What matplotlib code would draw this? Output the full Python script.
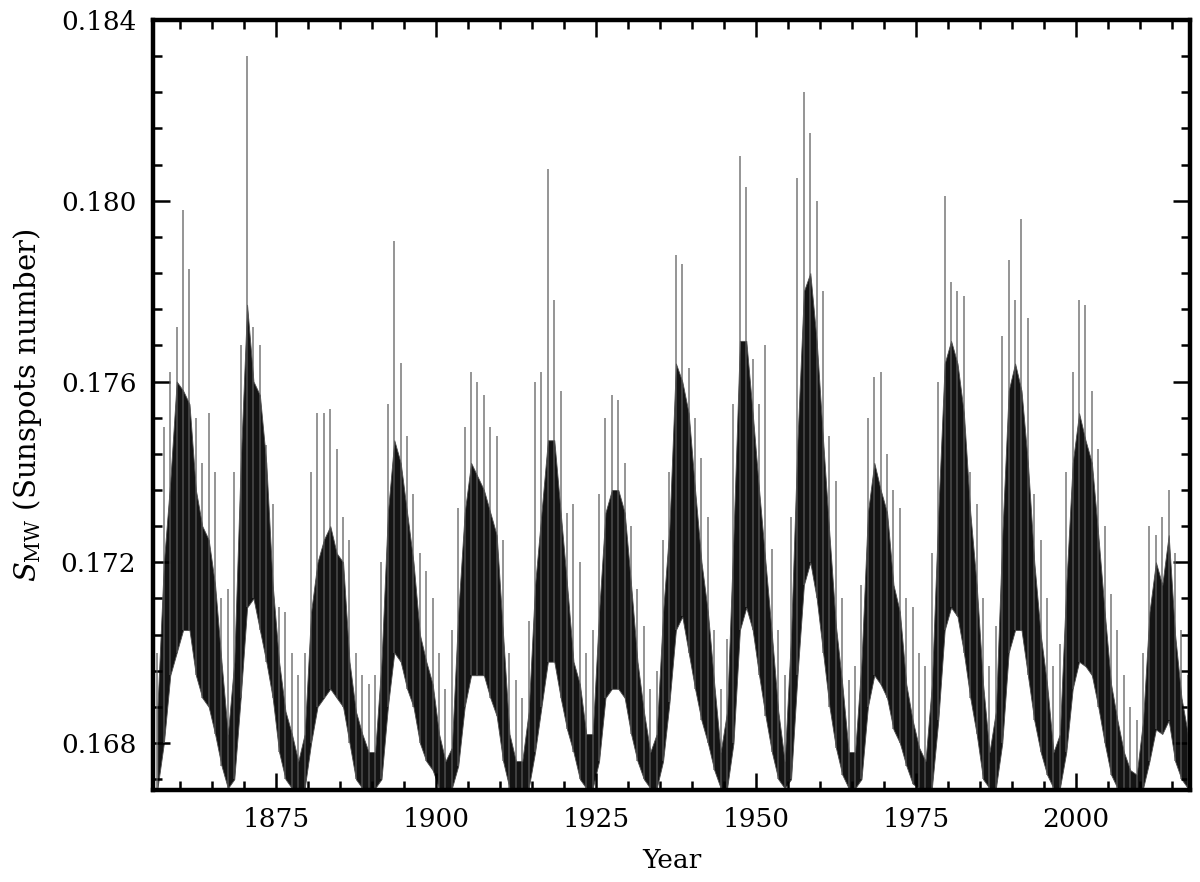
import matplotlib
matplotlib.use("Agg")
import matplotlib.pyplot as plt
import numpy as np
from matplotlib.ticker import MultipleLocator, FormatStrFormatter

# yearly bins (value plotted at mid-year)
years = np.arange(1856, 2018)

# upper edge of the dense black band
core_hi = [
    0.1688, 0.1720, 0.1738, 0.1760, 0.1758, 0.1755, 0.1736, 0.1728, 0.1725, 0.1715,  # 1856-1865
    0.1698, 0.1682, 0.1698, 0.1742, 0.1777, 0.1760, 0.1757, 0.1742, 0.1715, 0.1698,  # 1866-1875
    0.1687, 0.1682, 0.1676, 0.1682, 0.1709, 0.1720, 0.1725, 0.1728, 0.1722, 0.1720,  # 1876-1885
    0.1698, 0.1687, 0.1682, 0.1678, 0.1678, 0.1698, 0.1731, 0.1747, 0.1742, 0.1731,  # 1886-1895
    0.1720, 0.1704, 0.1698, 0.1693, 0.1682, 0.1676, 0.1679, 0.1709, 0.1731, 0.1742,  # 1896-1905
    0.1739, 0.1736, 0.1731, 0.1726, 0.1704, 0.1682, 0.1676, 0.1676, 0.1687, 0.1715,  # 1906-1915
    0.1731, 0.1747, 0.1747, 0.1731, 0.1715, 0.1698, 0.1693, 0.1682, 0.1682, 0.1709,  # 1916-1925
    0.1731, 0.1736, 0.1736, 0.1731, 0.1715, 0.1698, 0.1687, 0.1678, 0.1682, 0.1709,  # 1926-1935
    0.1728, 0.1764, 0.1760, 0.1753, 0.1736, 0.1720, 0.1709, 0.1693, 0.1678, 0.1687,  # 1936-1945
    0.1726, 0.1769, 0.1769, 0.1753, 0.1736, 0.1720, 0.1704, 0.1687, 0.1676, 0.1704,  # 1946-1955
    0.1747, 0.1780, 0.1784, 0.1769, 0.1747, 0.1726, 0.1706, 0.1693, 0.1678, 0.1678,  # 1956-1965
    0.1698, 0.1731, 0.1742, 0.1736, 0.1731, 0.1715, 0.1709, 0.1693, 0.1685, 0.1679,  # 1966-1975
    0.1676, 0.1693, 0.1731, 0.1764, 0.1769, 0.1764, 0.1753, 0.1731, 0.1715, 0.1693,  # 1976-1985
    0.1678, 0.1687, 0.1726, 0.1758, 0.1764, 0.1758, 0.1742, 0.1720, 0.1704, 0.1693,  # 1986-1995
    0.1678, 0.1682, 0.1715, 0.1742, 0.1753, 0.1747, 0.1742, 0.1726, 0.1709, 0.1693,  # 1996-2005
    0.1685, 0.1678, 0.1674, 0.1673, 0.1685, 0.1709, 0.1720, 0.1715, 0.1726, 0.1704,  # 2006-2015
    0.1690, 0.1682,                                                                  # 2016-2017
]

# lower edge of the dense black band
core_lo = [
    0.1670, 0.1680, 0.1695, 0.1700, 0.1705, 0.1705, 0.1695, 0.1690, 0.1688, 0.1682,
    0.1675, 0.1670, 0.1672, 0.1690, 0.1710, 0.1712, 0.1705, 0.1698, 0.1690, 0.1678,
    0.1672, 0.1670, 0.1670, 0.1670, 0.1680, 0.1688, 0.1690, 0.1692, 0.1690, 0.1688,
    0.1680, 0.1672, 0.1670, 0.1670, 0.1670, 0.1672, 0.1688, 0.1700, 0.1698, 0.1692,
    0.1688, 0.1680, 0.1676, 0.1674, 0.1670, 0.1670, 0.1670, 0.1675, 0.1688, 0.1695,
    0.1695, 0.1695, 0.1690, 0.1686, 0.1676, 0.1670, 0.1670, 0.1670, 0.1670, 0.1678,
    0.1688, 0.1698, 0.1698, 0.1690, 0.1683, 0.1678, 0.1672, 0.1670, 0.1670, 0.1676,
    0.1690, 0.1692, 0.1692, 0.1690, 0.1682, 0.1676, 0.1672, 0.1670, 0.1670, 0.1676,
    0.1689, 0.1705, 0.1708, 0.1700, 0.1692, 0.1685, 0.1680, 0.1674, 0.1670, 0.1670,
    0.1680, 0.1705, 0.1710, 0.1705, 0.1695, 0.1686, 0.1678, 0.1672, 0.1670, 0.1672,
    0.1695, 0.1715, 0.1720, 0.1712, 0.1700, 0.1688, 0.1679, 0.1673, 0.1670, 0.1670,
    0.1672, 0.1688, 0.1695, 0.1693, 0.1690, 0.1683, 0.1680, 0.1675, 0.1671, 0.1670,
    0.1670, 0.1670, 0.1685, 0.1705, 0.1710, 0.1708, 0.1700, 0.1690, 0.1682, 0.1672,
    0.1670, 0.1670, 0.1680, 0.1700, 0.1705, 0.1705, 0.1695, 0.1685, 0.1678, 0.1673,
    0.1670, 0.1670, 0.1678, 0.1692, 0.1698, 0.1697, 0.1695, 0.1688, 0.1680, 0.1673,
    0.1670, 0.1670, 0.1670, 0.1670, 0.1670, 0.1676, 0.1683, 0.1682, 0.1685, 0.1676,
    0.1672, 0.1670,
]

# tallest single spike in each year
spike_top = [
    0.1700, 0.1750, 0.1762, 0.1772, 0.1798, 0.1785, 0.1752, 0.1742, 0.1753, 0.1740,
    0.1712, 0.1714, 0.1740, 0.1768, 0.1832, 0.1772, 0.1768, 0.1746, 0.1733, 0.1710,
    0.1709, 0.1700, 0.1695, 0.1700, 0.1740, 0.1753, 0.1753, 0.1754, 0.1745, 0.1730,
    0.1725, 0.1700, 0.1695, 0.1693, 0.1695, 0.1720, 0.1755, 0.1791, 0.1764, 0.1748,
    0.1735, 0.1722, 0.1718, 0.1712, 0.1700, 0.1692, 0.1705, 0.1732, 0.1750, 0.1762,
    0.1760, 0.1757, 0.1750, 0.1748, 0.1725, 0.1700, 0.1694, 0.1690, 0.1707, 0.1760,
    0.1762, 0.1807, 0.1778, 0.1758, 0.1731, 0.1733, 0.1720, 0.1700, 0.1705, 0.1735,
    0.1752, 0.1757, 0.1756, 0.1742, 0.1728, 0.1714, 0.1706, 0.1692, 0.1696, 0.1725,
    0.1740, 0.1788, 0.1786, 0.1763, 0.1752, 0.1743, 0.1730, 0.1705, 0.1692, 0.1703,
    0.1755, 0.1810, 0.1803, 0.1765, 0.1755, 0.1768, 0.1723, 0.1705, 0.1695, 0.1730,
    0.1805, 0.1824, 0.1815, 0.1800, 0.1780, 0.1748, 0.1738, 0.1712, 0.1694, 0.1697,
    0.1715, 0.1752, 0.1761, 0.1762, 0.1744, 0.1736, 0.1732, 0.1712, 0.1710, 0.1700,
    0.1697, 0.1722, 0.1760, 0.1801, 0.1782, 0.1780, 0.1779, 0.1740, 0.1733, 0.1712,
    0.1697, 0.1706, 0.1770, 0.1787, 0.1778, 0.1796, 0.1774, 0.1735, 0.1725, 0.1712,
    0.1697, 0.1702, 0.1740, 0.1762, 0.1778, 0.1777, 0.1758, 0.1745, 0.1728, 0.1713,
    0.1705, 0.1695, 0.1688, 0.1685, 0.1700, 0.1728, 0.1726, 0.1730, 0.1736, 0.1722,
    0.1705, 0.1695,
]

plt.rcParams['font.family'] = ['DejaVu Serif']
plt.rcParams['mathtext.fontset'] = 'dejavuserif'

fig = plt.figure(figsize=(12, 8.82), dpi=100)
ax = fig.add_axes([0.1275, 0.1043, 0.864, 0.873])

t = years + 0.5
lo = np.array(core_lo)
hi = np.array(core_hi)
top = np.array(spike_top)

# thin grey spikes
ax.vlines(t, lo, top, color='0.35', lw=1.2, alpha=0.75)
# dense core band
ax.fill_between(t, lo, hi, color='0.08', lw=0.6, edgecolor='0.3')

ax.set_xlim(1855.8, 2017.8)
ax.set_ylim(0.16696, 0.184)

ax.xaxis.set_major_locator(MultipleLocator(25))
ax.xaxis.set_minor_locator(MultipleLocator(5))
ax.yaxis.set_major_locator(MultipleLocator(0.004))
ax.yaxis.set_minor_locator(MultipleLocator(0.0008))
ax.yaxis.set_major_formatter(FormatStrFormatter('%.3f'))

ax.tick_params(which='both', direction='in', top=True, right=True, labelsize=19)
ax.tick_params(which='major', length=12, width=1.8, pad=12)
ax.tick_params(which='minor', length=6.5, width=1.8)
for s in ax.spines.values():
    s.set_linewidth(3.2)

ax.set_xlabel('Year', fontsize=19, labelpad=12)
ax.set_ylabel(r'$S_{\rm MW}$ (Sunspots number)', fontsize=21, labelpad=12)

plt.savefig('out.png', dpi=100)
